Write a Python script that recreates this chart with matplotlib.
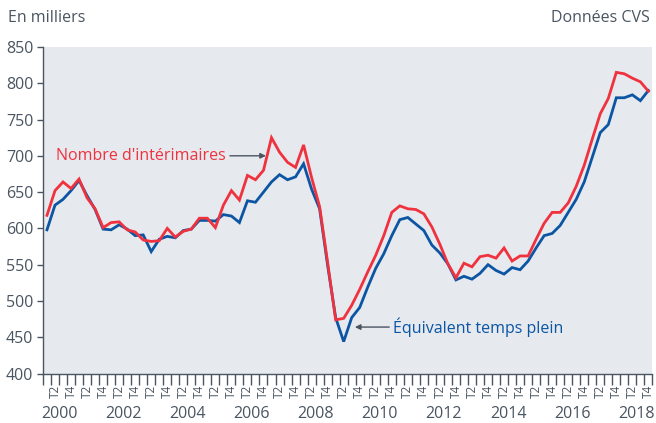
import matplotlib.pyplot as plt
import numpy as np

plt.rcParams['font.family'] = ['Open Sans', 'DejaVu Sans']

# trimestres 2000 T1 -> 2018 T4
annees = list(range(2000, 2019))
trimestres = [f"T{q}" for a in annees for q in (1, 2, 3, 4)]

interimaires = [618, 652, 664, 655, 668, 642, 627, 601, 608, 609,
                598, 595, 584, 582, 583, 600, 588, 596, 599, 614,
                614, 601, 632, 652, 639, 673, 667, 680, 725, 705,
                691, 684, 715, 670, 630, 553, 474, 476, 494, 516,
                540, 563, 590, 622, 631, 627, 626, 620, 602, 578,
                551, 532, 552, 547, 561, 563, 559, 573, 555, 562,
                562, 585, 607, 622, 622, 635, 658, 687, 723, 758,
                779, 815, 813, 807, 802, 789]

etp = [598, 632, 640, 652, 666, 645, 626, 599, 598, 605,
       599, 590, 591, 568, 585, 589, 587, 597, 599, 611,
       611, 610, 619, 617, 608, 638, 636, 650, 664, 674,
       667, 671, 689, 654, 627, 549, 477, 444, 477, 491,
       519, 545, 565, 590, 612, 615, 606, 597, 577, 566,
       551, 529, 534, 530, 538, 550, 542, 537, 546, 543,
       555, 573, 590, 593, 604, 622, 640, 664, 698, 732,
       743, 780, 780, 784, 776, 790]

rouge = '#f0323f'
bleu = '#0b55a3'
gris = '#4a5561'

fig = plt.figure(figsize=(6.56, 4.23), dpi=100)
ax = fig.add_axes([0.0655, 0.117, 0.929, 0.772])
ax.set_facecolor('#e6e9ee')

x = np.arange(len(trimestres))
ax.plot(x, etp, color=bleu, linewidth=2.0, solid_joinstyle='miter')
ax.plot(x, interimaires, color=rouge, linewidth=2.0, solid_joinstyle='miter')

ax.set_xlim(-0.4, len(trimestres) - 0.55)
ax.set_ylim(400, 850)
ax.set_yticks(range(400, 851, 50))
ax.tick_params(axis='y', labelsize=11.5, colors=gris, length=4, width=1, pad=3)

for s in ['top', 'right']:
    ax.spines[s].set_visible(False)
for s in ['left', 'bottom']:
    ax.spines[s].set_color(gris)
    ax.spines[s].set_linewidth(1)

# ticks aux limites des trimestres, labels T2 / T4
ax.set_xticks(np.arange(len(trimestres) + 1) - 0.5, minor=True)
lab_pos = [i for i, t in enumerate(trimestres) if t in ('T2', 'T4')]
ax.set_xticks(lab_pos)
ax.set_xticklabels([trimestres[i] for i in lab_pos], rotation=90, fontsize=8.5, color=gris)
ax.tick_params(axis='x', which='major', length=0, pad=8)
ax.tick_params(axis='x', which='minor', length=8, width=1, color=gris)

for k, a in enumerate(annees):
    if a % 2 == 0:
        ax.text(4 * k + 1.5, -0.098, str(a), transform=ax.get_xaxis_transform(),
                ha='center', va='top', fontsize=11.5, color=gris)

ax.annotate("Nombre d'intérimaires", xy=(27.3, 700), xytext=(22.3, 700),
            ha='right', va='center', fontsize=11.5, color=rouge,
            arrowprops=dict(arrowstyle='-|>', color=gris, lw=1, shrinkA=1, shrinkB=0,
                            mutation_scale=8))
ax.annotate("Équivalent temps plein", xy=(38.4, 464), xytext=(43.2, 464),
            ha='left', va='center', fontsize=11.5, color=bleu,
            arrowprops=dict(arrowstyle='-|>', color=gris, lw=1, shrinkA=1, shrinkB=0,
                            mutation_scale=8))

fig.text(8 / 656, 1 - 18 / 423, "En milliers", ha='left', va='center', fontsize=11.5, color=gris)
fig.text(650 / 656, 1 - 18 / 423, "Données CVS", ha='right', va='center', fontsize=11.5, color=gris)

fig.savefig('out.png', dpi=100)
